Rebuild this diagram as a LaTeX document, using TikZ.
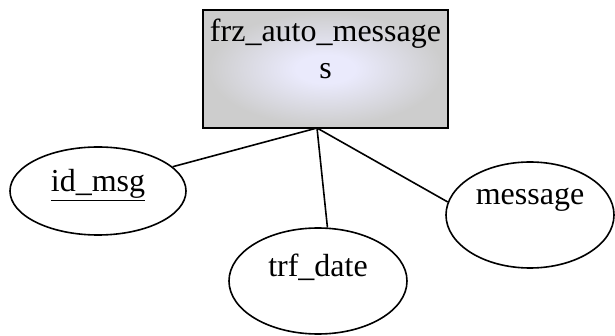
\documentclass[tikz,border=0pt]{standalone}
\usepackage{fontspec}
\setmainfont{Liberation Serif}
\usetikzlibrary{shapes.geometric}

\definecolor{entin}{RGB}{234,234,252}
\definecolor{entout}{RGB}{205,205,205}
\pgfdeclareradialshading{entshade}{\pgfpoint{0bp}{0bp}}{color(0bp)=(entin); color(6bp)=(entin); color(24bp)=(entout); color(50bp)=(entout)}

\tikzset{
  entity/.style={rectangle, draw, line width=1.8pt, shading=entshade, inner sep=0pt, minimum width=245pt, minimum height=118pt},
  attrib/.style={ellipse, draw, line width=1.6pt, fill=white, inner sep=0pt},
  link/.style={line width=1.6pt},
}

\begin{document}
\begin{tikzpicture}[x=1pt, y=-1pt, font=\fontsize{32}{37}\selectfont]
  \useasboundingbox (0,0) rectangle (615,336);

  \node[entity, label={[name=entname, align=center, yshift=20pt]center:frz\_auto\_message\\s}] (ent) at (325.5,69) {};
  \coordinate (hub) at (317,128);

  \node[attrib, minimum width=176pt, minimum height=88pt, label={[name=idname, yshift=6pt]center:\underline{id\_msg}}] (idmsg) at (98,191) {};
  \node[attrib, minimum width=178pt, minimum height=106pt, label={[name=trfname, yshift=14pt]center:trf\_date}] (trf) at (318,281) {};
  \node[attrib, minimum width=168pt, minimum height=106pt, label={[name=msgname, yshift=15pt]center:message}] (msg) at (530,215) {};

  \draw[link] (hub) -- (idmsg.18);
  \draw[link] (hub) -- (trf.80);
  \draw[link] (hub) -- (msg.171);
\end{tikzpicture}
\end{document}
